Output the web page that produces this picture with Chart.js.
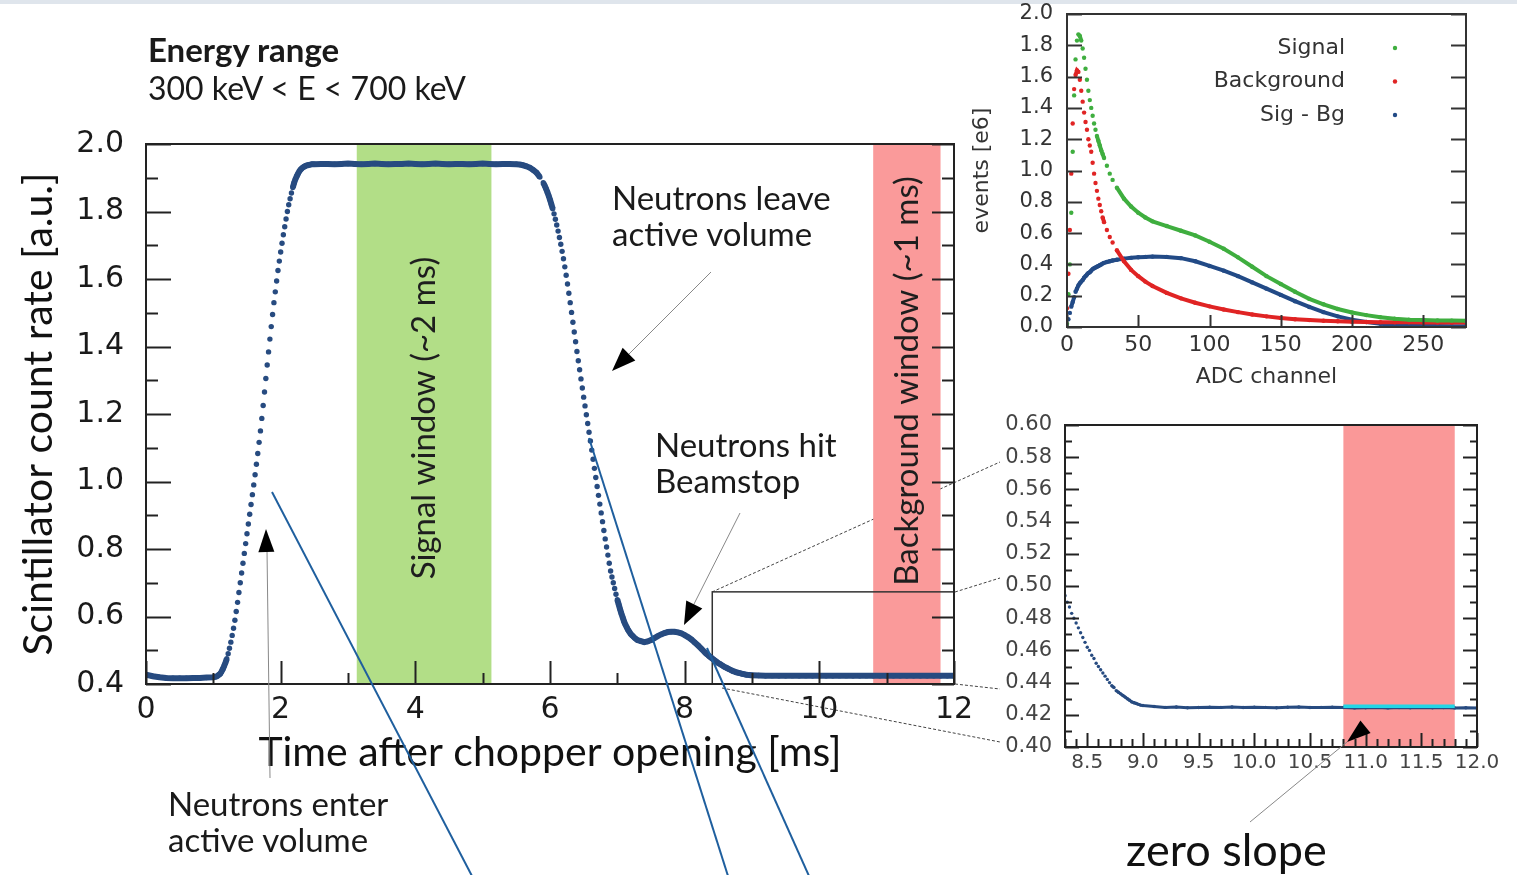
<!DOCTYPE html>
<html>
<head>
<meta charset="utf-8">
<title>Scintillator count rate</title>
<script src="https://cdn.jsdelivr.net/npm/chart.js@4.4.1/dist/chart.umd.min.js"></script>
<style>
  body { margin: 0; width: 1517px; height: 875px; background: #fff; position: relative; overflow: hidden; }
  .topband { position: absolute; left: 0; top: 0; width: 1517px; height: 4px; background: #dfe5ec; }
  .box { position: absolute; }
  svg { position: absolute; left: 0; top: 0; }
  .note { position: absolute; font-family: Lato, sans-serif; font-size: 33px; line-height: 36px; color: #1a1a1a; white-space: nowrap; }
</style>
</head>
<body>
<div class="topband"></div>
<svg id="under" width="1517" height="875"></svg>

<div class="box" style="left:0;top:120px;width:1000px;height:680px"><canvas id="mainChart" width="1000" height="680"></canvas></div>
<div class="box" style="left:960px;top:0;width:557px;height:400px"><canvas id="specChart" width="557" height="400"></canvas></div>
<div class="box" style="left:960px;top:400px;width:557px;height:475px"><canvas id="zoomChart" width="557" height="475"></canvas></div>

<svg id="over" width="1517" height="875"></svg>

<div class="note" style="left:148px;top:30px;line-height:38px;font-weight:700">Energy range</div>
<div class="note" style="left:148px;top:69px;font-size:32px;line-height:38px">300 keV &lt; E &lt; 700 keV</div>
<div class="note" style="left:612px;top:179px">Neutrons leave<br>active volume</div>
<div class="note" style="left:655px;top:426px">Neutrons hit<br>Beamstop</div>
<div class="note" style="left:168px;top:785px">Neutrons enter<br>active volume</div>
<div class="note" style="left:1126px;top:824px;font-size:45px;line-height:50px;color:#111">zero slope</div>

<script>
// time after chopper opening [ms] and scintillator count rate [a.u.]
const timeMs = [
  0.0, 0.1, 0.2, 0.3, 0.4, 0.5, 0.6, 0.7, 0.8, 0.9,
  1.00, 1.02, 1.04, 1.06, 1.08, 1.10, 1.12, 1.14, 1.16, 1.18, 1.20, 1.22, 1.24, 1.26, 1.28,
  1.30, 1.32, 1.34, 1.36, 1.38, 1.40, 1.42, 1.44, 1.46, 1.48, 1.50, 1.52, 1.54, 1.56, 1.58,
  1.60, 1.62, 1.64, 1.66, 1.68, 1.70, 1.72, 1.74, 1.76, 1.78, 1.80, 1.82, 1.84, 1.86, 1.88,
  1.90, 1.92, 1.94, 1.96, 1.98, 2.00, 2.02, 2.04, 2.06, 2.08, 2.10, 2.12, 2.14, 2.16, 2.18,
  2.20, 2.22, 2.24, 2.26, 2.28, 2.30, 2.32, 2.34, 2.36, 2.38, 2.40, 2.42, 2.44, 2.46, 2.48,
  2.5, 2.6, 2.7, 2.8, 2.9, 3.0, 3.1, 3.2, 3.3, 3.4, 3.5, 3.6, 3.7, 3.8, 3.9,
  4.0, 4.1, 4.2, 4.3, 4.4, 4.5, 4.6, 4.7, 4.8, 4.9, 5.0, 5.1, 5.2, 5.3, 5.4,
  5.50, 5.55, 5.60, 5.65, 5.70, 5.75, 5.80, 5.85,
  5.90, 5.92, 5.94, 5.96, 5.98, 6.00, 6.02, 6.04, 6.06, 6.08, 6.10, 6.12, 6.14, 6.16, 6.18,
  6.20, 6.22, 6.24, 6.26, 6.28, 6.30, 6.32, 6.34, 6.36, 6.38, 6.40, 6.42, 6.44, 6.46, 6.48,
  6.50, 6.52, 6.54, 6.56, 6.58, 6.60, 6.62, 6.64, 6.66, 6.68, 6.70, 6.72, 6.74, 6.76, 6.78,
  6.80, 6.82, 6.84, 6.86, 6.88, 6.90, 6.92, 6.94, 6.96, 6.98, 7.00, 7.02, 7.04, 7.06, 7.08,
  7.10, 7.12, 7.14, 7.16, 7.18, 7.20, 7.22, 7.24, 7.26, 7.28, 7.30,
  7.35, 7.40, 7.45, 7.50, 7.55, 7.60, 7.65, 7.70, 7.75, 7.80, 7.85, 7.90, 7.95, 8.00,
  8.05, 8.10, 8.15, 8.20, 8.25,
  8.30, 8.32, 8.34, 8.36, 8.38, 8.40, 8.42, 8.44, 8.46, 8.48, 8.50, 8.52, 8.54, 8.56, 8.58,
  8.60, 8.62, 8.64, 8.66, 8.68, 8.70, 8.72, 8.74, 8.76, 8.78, 8.80, 8.82, 8.84, 8.86, 8.88,
  8.90, 8.92, 8.94, 8.96, 8.98, 9.00,
  9.1, 9.2, 9.3, 9.4, 9.5, 9.6, 9.7, 9.8, 9.9, 10.0, 10.1, 10.2, 10.3, 10.4, 10.5,
  10.6, 10.7, 10.8, 10.9, 11.0, 11.1, 11.2, 11.3, 11.4, 11.5, 11.6, 11.7, 11.8, 11.9, 12.0
];
const countRate = [
  0.428, 0.423, 0.420, 0.418, 0.417, 0.417, 0.417, 0.418, 0.418, 0.419,
  0.420, 0.421, 0.422, 0.424, 0.427, 0.430, 0.436, 0.444, 0.453, 0.463, 0.475, 0.490, 0.506, 0.524, 0.544,
  0.565, 0.589, 0.615, 0.642, 0.671, 0.700, 0.729, 0.758, 0.787, 0.816, 0.845, 0.874, 0.903, 0.932, 0.961,
  0.990, 1.020, 1.051, 1.083, 1.116, 1.150, 1.187, 1.225, 1.265, 1.305, 1.345, 1.384, 1.422, 1.459, 1.495,
  1.530, 1.562, 1.594, 1.625, 1.653, 1.680, 1.706, 1.731, 1.755, 1.778, 1.800, 1.820, 1.838, 1.855, 1.871,
  1.885, 1.896, 1.905, 1.913, 1.920, 1.925, 1.929, 1.932, 1.934, 1.936, 1.937, 1.938, 1.939, 1.940, 1.940,
  1.940, 1.941, 1.941, 1.940, 1.941, 1.942, 1.941, 1.940, 1.941, 1.942, 1.941, 1.940, 1.941, 1.941, 1.942,
  1.941, 1.940, 1.941, 1.942, 1.941, 1.940, 1.941, 1.941, 1.940, 1.941, 1.942, 1.941, 1.940, 1.941, 1.941,
  1.940, 1.939, 1.937, 1.934, 1.930, 1.923, 1.915, 1.902,
  1.885, 1.877, 1.868, 1.858, 1.847, 1.835, 1.822, 1.808, 1.793, 1.777, 1.760, 1.742, 1.723, 1.703, 1.682,
  1.660, 1.636, 1.611, 1.585, 1.558, 1.530, 1.501, 1.472, 1.443, 1.414, 1.385, 1.358, 1.331, 1.304, 1.277,
  1.250, 1.224, 1.198, 1.172, 1.146, 1.120, 1.093, 1.066, 1.039, 1.012, 0.985, 0.959, 0.933, 0.907, 0.881,
  0.855, 0.830, 0.806, 0.782, 0.758, 0.735, 0.717, 0.700, 0.683, 0.666, 0.650, 0.636, 0.622, 0.609, 0.597,
  0.585, 0.576, 0.568, 0.560, 0.554, 0.548, 0.544, 0.540, 0.536, 0.533, 0.530,
  0.527, 0.524, 0.526, 0.530, 0.536, 0.542, 0.547, 0.551, 0.554, 0.555, 0.555, 0.553, 0.550, 0.545,
  0.539, 0.532, 0.523, 0.514, 0.504,
  0.494, 0.490, 0.487, 0.483, 0.480, 0.477, 0.474, 0.471, 0.468, 0.465, 0.462, 0.460, 0.457, 0.455, 0.452,
  0.450, 0.448, 0.446, 0.444, 0.442, 0.440, 0.438, 0.437, 0.435, 0.434, 0.433, 0.432, 0.431, 0.430, 0.429,
  0.428, 0.4275, 0.427, 0.4265, 0.426, 0.4258,
  0.4252, 0.4246, 0.4248, 0.4244, 0.4245, 0.4247, 0.4246, 0.4248, 0.4245, 0.4247, 0.4246, 0.4244, 0.4247, 0.4248, 0.4245,
  0.4246, 0.4247, 0.4245, 0.4243, 0.4244, 0.4246, 0.4243, 0.4245, 0.4244, 0.4246, 0.4244, 0.4245, 0.4243, 0.4244, 0.4242
];

// windows [ms]
const signalWindow = [3.13, 5.13];
const backgroundWindow = [10.8, 11.8];
// zero-slope fit in the background window
const fitTime = [10.8, 11.8];
const fitRate = [0.4253, 0.4253];
// zoomed region marked on the main plot
const zoomBoxTime = [8.41, 12.0];
const zoomBoxRate = [0.40, 0.673];

// pulse height spectra
const adcChannel = [
  0, 1, 2, 3, 4, 5, 6, 7, 8, 9, 10, 11, 12, 13, 14, 15, 16, 17, 18, 19, 20, 21, 22, 23, 24, 25, 26,
  28, 30, 32, 35, 40, 45, 50, 55, 60, 70, 80, 90, 100, 110, 120, 130, 140, 150, 160, 170, 180, 190,
  200, 210, 220, 230, 240, 250, 260, 270, 280
];
const signalEvents = [
  0.02, 0.21, 0.40, 0.73, 1.12, 1.48, 1.71, 1.83, 1.87, 1.86, 1.83, 1.78, 1.72, 1.65, 1.58, 1.51, 1.45, 1.40,
  1.35, 1.30, 1.26, 1.22, 1.19, 1.16, 1.13, 1.105, 1.08,
  1.03, 0.98, 0.94, 0.89, 0.82, 0.77, 0.73, 0.70, 0.675, 0.645, 0.615, 0.585, 0.545, 0.50, 0.445, 0.385,
  0.325, 0.275, 0.225, 0.18, 0.145, 0.115, 0.093, 0.076, 0.063, 0.053, 0.047, 0.044, 0.042, 0.041, 0.040
];
const backgroundEvents = [
  0.12, 0.34, 0.62, 0.98, 1.30, 1.52, 1.61, 1.64, 1.63, 1.58, 1.51, 1.44, 1.37, 1.31, 1.26, 1.20, 1.16, 1.12,
  1.05, 0.98, 0.92, 0.87, 0.82, 0.78, 0.74, 0.70, 0.67,
  0.62, 0.575, 0.54, 0.49, 0.42, 0.365, 0.325, 0.29, 0.262, 0.218, 0.183, 0.155, 0.132, 0.112, 0.095, 0.080,
  0.068, 0.058, 0.050, 0.044, 0.040, 0.037, 0.034, 0.032, 0.031, 0.030, 0.030, 0.029, 0.029, 0.029, 0.029
];
const differenceEvents = [
  0.0, 0.05, 0.09, 0.13, 0.16, 0.19, 0.225, 0.245, 0.265, 0.28, 0.29, 0.30, 0.315, 0.325, 0.335, 0.345, 0.35, 0.36,
  0.37, 0.375, 0.38, 0.385, 0.39, 0.395, 0.40, 0.405, 0.41,
  0.415, 0.42, 0.425, 0.43, 0.437, 0.442, 0.446, 0.448, 0.45, 0.448, 0.44, 0.42, 0.39, 0.36, 0.325, 0.285,
  0.245, 0.205, 0.165, 0.128, 0.095, 0.068, 0.047, 0.032, 0.02, 0.013, 0.009, 0.007, 0.006, 0.005, 0.005
];

const curveBlue = '#274b80';
const tickFont = 'DejaVu Sans';

function points(xs, ys) {
  return xs.map((x, i) => ({ x: x, y: ys[i] }));
}

// hide the joining line where densely sampled dots climb fast, so only the dots show
function hideSteep(color, limit) {
  return c => (Math.abs(c.p1.y - c.p0.y) > limit && Math.abs(c.p1.x - c.p0.x) < 5) ? 'rgba(0,0,0,0)' : color;
}

// fixed axis size, and no extra room reserved for half labels
function fixWidth(w) {
  return s => { s.width = w; s.paddingTop = 0; s.paddingBottom = 0; };
}
function fixHeight(h) {
  return s => { s.height = h; s.paddingLeft = 0; s.paddingRight = 0; };
}

function inwardTicks(ctx, scale, spec, side, a) {
  if (!spec) return;
  const minor = spec.minor || spec.major;
  const first = Math.ceil(scale.min / minor - 1e-9);
  const last = Math.floor(scale.max / minor + 1e-9);
  for (let k = first; k <= last; k++) {
    const v = k * minor;
    const r = v / spec.major;
    const len = Math.abs(r - Math.round(r)) < 1e-6 ? spec.majorLen : spec.minorLen;
    if (!len) continue;
    const p = Math.round(scale.getPixelForValue(v)) + 0.5;
    ctx.beginPath();
    if (side === 'left') { ctx.moveTo(a.left, p); ctx.lineTo(a.left + len, p); }
    if (side === 'right') { ctx.moveTo(a.right, p); ctx.lineTo(a.right - len, p); }
    if (side === 'bottom') { ctx.moveTo(p, a.bottom); ctx.lineTo(p, a.bottom - len); }
    ctx.stroke();
  }
}

const framePlugin = {
  id: 'frame',
  beforeDatasetsDraw(chart, args, o) {
    const { ctx, chartArea: a, scales: { x, y } } = chart;
    (o.bands || []).forEach(b => {
      const x0 = Math.max(a.left, x.getPixelForValue(b.range[0]));
      const x1 = Math.min(a.right, x.getPixelForValue(b.range[1]));
      ctx.fillStyle = b.color;
      ctx.fillRect(x0, a.top, x1 - x0, a.bottom - a.top);
      if (b.label) {
        ctx.save();
        ctx.translate((x0 + x1) / 2, y.getPixelForValue(b.labelAt));
        ctx.rotate(-Math.PI / 2);
        ctx.font = b.font;
        ctx.fillStyle = '#1e1e1e';
        ctx.textAlign = 'center';
        ctx.textBaseline = 'middle';
        ctx.fillText(b.label, 0, 0);
        ctx.restore();
      }
    });
    if (o.box) {
      const bx0 = x.getPixelForValue(o.box.x[0]), bx1 = x.getPixelForValue(o.box.x[1]);
      const by0 = y.getPixelForValue(o.box.y[0]), by1 = y.getPixelForValue(o.box.y[1]);
      ctx.strokeStyle = '#333';
      ctx.lineWidth = 1.5;
      ctx.strokeRect(bx0, by1, bx1 - bx0, by0 - by1);
    }
  },
  afterDatasetsDraw(chart, args, o) {
    const { ctx, chartArea: a, scales: { x, y } } = chart;
    ctx.save();
    ctx.strokeStyle = o.color;
    ctx.lineWidth = o.width;
    ctx.strokeRect(a.left, a.top, a.right - a.left, a.bottom - a.top);
    ctx.lineWidth = o.tickWidth;
    inwardTicks(ctx, y, o.left, 'left', a);
    inwardTicks(ctx, y, o.right, 'right', a);
    inwardTicks(ctx, x, o.bottom, 'bottom', a);
    if (o.legend) {
      const L = o.legend;
      ctx.font = L.font;
      ctx.textBaseline = 'middle';
      chart.data.datasets.forEach((ds, i) => {
        const ty = a.top + L.top + i * L.gap;
        ctx.fillStyle = '#333';
        ctx.textAlign = 'right';
        ctx.fillText(ds.label, a.right - L.textRight, ty);
        ctx.fillStyle = ds.borderColor;
        ctx.beginPath();
        ctx.arc(a.right - L.dotRight, ty, 2.2, 0, Math.PI * 2);
        ctx.fill();
      });
    }
    ctx.restore();
  }
};

const quiet = { legend: { display: false }, tooltip: { enabled: false } };

// main time spectrum
new Chart(document.getElementById('mainChart'), {
  type: 'scatter',
  data: {
    datasets: [{
      data: points(timeMs, countRate),
      showLine: true,
      borderColor: curveBlue,
      borderWidth: 6,
      pointRadius: 2.7,
      pointBorderWidth: 0,
      pointBackgroundColor: curveBlue,
      segment: { borderColor: hideSteep(curveBlue, 5) }
    }]
  },
  options: {
    responsive: false, animation: false, events: [],
    layout: { padding: { left: 14, top: 24, right: 46, bottom: 23 } },
    plugins: Object.assign({}, quiet, {
      frame: {
        color: '#222', width: 2, tickWidth: 2,
        bands: [
          { range: signalWindow, color: '#b2de87', label: 'Signal window (~2 ms)', labelAt: 1.188, font: '33px Lato' },
          { range: backgroundWindow, color: '#fa9a9a', label: 'Background window (~1 ms)', labelAt: 1.298, font: '33px Lato' }
        ],
        box: { x: zoomBoxTime, y: zoomBoxRate },
        left: { major: 0.2, minor: 0.1, majorLen: 25, minorLen: 12 },
        right: { major: 0.2, minor: 0.1, majorLen: 22, minorLen: 12 },
        bottom: { major: 2, minor: 1, majorLen: 23, minorLen: 11 }
      }
    }),
    scales: {
      x: {
        type: 'linear', min: 0, max: 12,
        afterFit: fixHeight(93),
        grid: { display: false, drawTicks: false }, border: { display: false },
        ticks: { stepSize: 2, padding: 8, maxRotation: 0, autoSkip: false, color: '#1a1a1a', font: { family: tickFont, size: 30 } },
        title: { display: true, text: 'Time after chopper opening [ms]', padding: 0, color: '#111', font: { family: 'Lato', size: 41 } }
      },
      y: {
        min: 0.4, max: 2.0,
        afterFit: fixWidth(132),
        grid: { display: false, drawTicks: false }, border: { display: false },
        ticks: { stepSize: 0.2, padding: 22, color: '#1a1a1a', font: { family: tickFont, size: 30 }, callback: v => v.toFixed(1) },
        title: { display: true, text: 'Scintillator count rate [a.u.]', padding: 0, color: '#111', font: { family: 'Lato', size: 41 } }
      }
    }
  },
  plugins: [framePlugin]
});

// pulse height spectra, top right
const specSeries = [
  { label: 'Signal', values: signalEvents, color: '#3fae3f' },
  { label: 'Background', values: backgroundEvents, color: '#e02424' },
  { label: 'Sig - Bg', values: differenceEvents, color: '#224a86' }
];
new Chart(document.getElementById('specChart'), {
  type: 'scatter',
  data: {
    datasets: specSeries.map(s => ({
      label: s.label,
      data: points(adcChannel, s.values),
      showLine: true,
      borderColor: s.color,
      borderWidth: 4,
      pointRadius: 2.2,
      pointBorderWidth: 0,
      pointBackgroundColor: s.color,
      segment: { borderColor: hideSteep(s.color, 5) }
    }))
  },
  options: {
    responsive: false, animation: false, events: [],
    layout: { padding: { left: 9, top: 14, right: 51, bottom: 10 } },
    plugins: Object.assign({}, quiet, {
      frame: {
        color: '#333', width: 2, tickWidth: 2,
        left: { major: 0.2, majorLen: 15 },
        right: { major: 0.2, majorLen: 15 },
        bottom: { major: 50, majorLen: 12 },
        legend: { font: '22px DejaVu Sans', top: 34, gap: 33.5, textRight: 121, dotRight: 71 }
      }
    }),
    scales: {
      x: {
        type: 'linear', min: 0, max: 280,
        afterFit: fixHeight(63),
        grid: { display: false, drawTicks: false }, border: { display: false },
        ticks: { stepSize: 50, includeBounds: false, padding: 5, maxRotation: 0, autoSkip: false, color: '#333', font: { family: tickFont, size: 22 } },
        title: { display: true, text: 'ADC channel', padding: 0, color: '#333', font: { family: tickFont, size: 22 } }
      },
      y: {
        min: 0, max: 2.0,
        afterFit: fixWidth(98),
        grid: { display: false, drawTicks: false }, border: { display: false },
        ticks: { stepSize: 0.2, padding: 14, color: '#333', font: { family: tickFont, size: 21 }, callback: v => v.toFixed(1) },
        title: { display: true, text: 'events [e6]', padding: 0, color: '#333', font: { family: tickFont, size: 22 } }
      }
    }
  },
  plugins: [framePlugin]
});

// zoom on the background region, bottom right
new Chart(document.getElementById('zoomChart'), {
  type: 'scatter',
  data: {
    datasets: [{
      data: points(fitTime, fitRate),
      showLine: true,
      borderColor: '#22d6e6',
      borderWidth: 3.5,
      pointRadius: 0
    }, {
      data: points(timeMs, countRate),
      showLine: true,
      borderColor: curveBlue,
      borderWidth: 3,
      pointRadius: 1.7,
      pointBorderWidth: 0,
      pointBackgroundColor: curveBlue,
      segment: { borderColor: hideSteep(curveBlue, 2.6) }
    }]
  },
  options: {
    responsive: false, animation: false, events: [],
    layout: { padding: { left: 0, top: 25, right: 40, bottom: 88 } },
    plugins: Object.assign({}, quiet, {
      frame: {
        color: '#222', width: 2, tickWidth: 2,
        bands: [{ range: backgroundWindow, color: '#fa9898' }],
        left: { major: 0.02, minor: 0.01, majorLen: 14, minorLen: 7 },
        right: { major: 0.02, minor: 0.01, majorLen: 14, minorLen: 7 },
        bottom: { major: 0.5, minor: 0.1, majorLen: 14, minorLen: 8 }
      }
    }),
    scales: {
      x: {
        type: 'linear', min: 8.3, max: 12.0,
        afterFit: fixHeight(40),
        grid: { display: false, drawTicks: false }, border: { display: false },
        ticks: { stepSize: 0.5, includeBounds: false, padding: 4, maxRotation: 0, autoSkip: false, color: '#444', font: { family: tickFont, size: 20 }, callback: v => v.toFixed(1) }
      },
      y: {
        min: 0.40, max: 0.60,
        afterFit: fixWidth(105),
        grid: { display: false, drawTicks: false }, border: { display: false },
        ticks: { stepSize: 0.02, padding: 13, color: '#444', font: { family: tickFont, size: 21 }, callback: v => v.toFixed(2) }
      }
    }
  },
  plugins: [framePlugin]
});

// decorations: connector lines, arrows and the stray blue strokes of the slide
const NS = 'http://www.w3.org/2000/svg';
function svgLine(svg, x1, y1, x2, y2, attrs) {
  const el = document.createElementNS(NS, 'line');
  el.setAttribute('x1', x1); el.setAttribute('y1', y1);
  el.setAttribute('x2', x2); el.setAttribute('y2', y2);
  for (const k in attrs) el.setAttribute(k, attrs[k]);
  svg.appendChild(el);
}
function arrowHead(svg, fx, fy, tx, ty, len, half) {
  const d = Math.hypot(tx - fx, ty - fy), ux = (tx - fx) / d, uy = (ty - fy) / d;
  const bx = tx - ux * len, by = ty - uy * len;
  const p = document.createElementNS(NS, 'polygon');
  p.setAttribute('points', [tx, ty, bx - uy * half, by + ux * half, bx + uy * half, by - ux * half].join(' '));
  p.setAttribute('fill', '#000');
  svg.appendChild(p);
}

const under = document.getElementById('under');
const dashed = { stroke: '#444', 'stroke-width': 1, 'stroke-dasharray': '3 2' };
svgLine(under, 712, 592, 1000, 462, dashed);
svgLine(under, 955, 592, 1000, 578, dashed);
svgLine(under, 955, 684, 1000, 689, dashed);
svgLine(under, 722, 688, 1000, 742, dashed);

const over = document.getElementById('over');
const pointer = { stroke: '#888', 'stroke-width': 1 };
svgLine(over, 270, 778, 267, 550, pointer);
arrowHead(over, 270, 778, 266, 529, 23, 8);
svgLine(over, 711, 272, 626, 357, pointer);
arrowHead(over, 711, 272, 612, 371, 24, 9);
svgLine(over, 740, 513, 693, 606, pointer);
arrowHead(over, 740, 513, 684, 625, 23, 9);
svgLine(over, 1250, 822, 1347, 742, pointer);
arrowHead(over, 1370, 723, 1347, 742, 24, 8);

const stroke = { stroke: '#1f5f9e', 'stroke-width': 2 };
svgLine(over, 272, 492, 472, 876, stroke);
svgLine(over, 589, 438, 728, 876, stroke);
svgLine(over, 707, 648, 809, 876, stroke);
</script>
</body>
</html>
